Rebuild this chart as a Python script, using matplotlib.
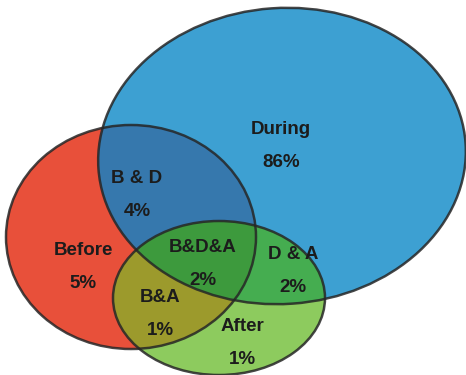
import numpy as np
import matplotlib.pyplot as plt
from matplotlib.patches import Ellipse, Polygon

# region names and shares (percent)
names = ["During", "B & D", "Before", "B&D&A", "D & A", "B&A", "After"]
shares = [86, 4, 5, 2, 2, 1, 1]
label_xy = [(281, 146), (137, 195), (83, 267), (203, 264), (293, 271), (160, 314), (242, 343)]

# sets: centre, width, height, angle, colour
sets = {
    "B": ((131, 237), 250, 224, 0, "#E8503A"),
    "D": ((282, 156), 368, 296, -4, "#3DA0D2"),
    "A": ((219, 298), 212, 154, 0, "#8DCB5E"),
}
overlap_col = {"BD": "#3678AD", "BA": "#9C9A2C", "DA": "#45AD50", "BDA": "#3D9A3D"}


def ellipse_poly(c, w, h, ang, n=400):
    t = np.linspace(0, 2 * np.pi, n, endpoint=False)
    x, y = w / 2 * np.cos(t), h / 2 * np.sin(t)
    a = np.deg2rad(ang)
    return np.column_stack([c[0] + x * np.cos(a) - y * np.sin(a),
                            c[1] + x * np.sin(a) + y * np.cos(a)])


def clip(subject, clipper):
    # Sutherland-Hodgman, both polygons convex and counter-clockwise
    out = subject
    m = len(clipper)
    for i in range(m):
        a, b = clipper[i], clipper[(i + 1) % m]
        inp, out = out, []
        if len(inp) == 0:
            break
        side = lambda p: (b[0] - a[0]) * (p[1] - a[1]) - (b[1] - a[1]) * (p[0] - a[0])
        for j in range(len(inp)):
            p, q = inp[j - 1], inp[j]
            sp, sq = side(p), side(q)
            if sq >= 0:
                if sp < 0:
                    out.append(p + (q - p) * sp / (sp - sq))
                out.append(q)
            elif sp >= 0:
                out.append(p + (q - p) * sp / (sp - sq))
        out = np.array(out)
    return out


fig = plt.figure(figsize=(4.66, 3.75), dpi=100)
ax = fig.add_axes([0, 0, 1, 1])
ax.set_xlim(0, 466)
ax.set_ylim(375, 0)
ax.axis("off")

polys = {k: ellipse_poly(*v[:4]) for k, v in sets.items()}

for k in ["B", "D", "A"]:
    c, w, h, ang, col = sets[k]
    ax.add_patch(Ellipse(c, w, h, angle=ang, facecolor=col, edgecolor="none"))

for key, col in overlap_col.items():
    p = polys[key[0]]
    for k in key[1:]:
        p = clip(p, polys[k])
    ax.add_patch(Polygon(p, closed=True, facecolor=col, edgecolor="none"))

for k in ["B", "D", "A"]:
    c, w, h, ang, col = sets[k]
    ax.add_patch(Ellipse(c, w, h, angle=ang, facecolor="none",
                         edgecolor="#262626", linewidth=1.8, alpha=0.85))

for name, pct, (x, y) in zip(names, shares, label_xy):
    ax.text(x, y, f"{name}\n{pct}%", ha="center", va="center", fontsize=13.5,
            fontweight="bold", color="#1c1c1c", linespacing=2.2,
            family=["Liberation Sans", "DejaVu Sans"])

fig.savefig("out.png", dpi=100)
